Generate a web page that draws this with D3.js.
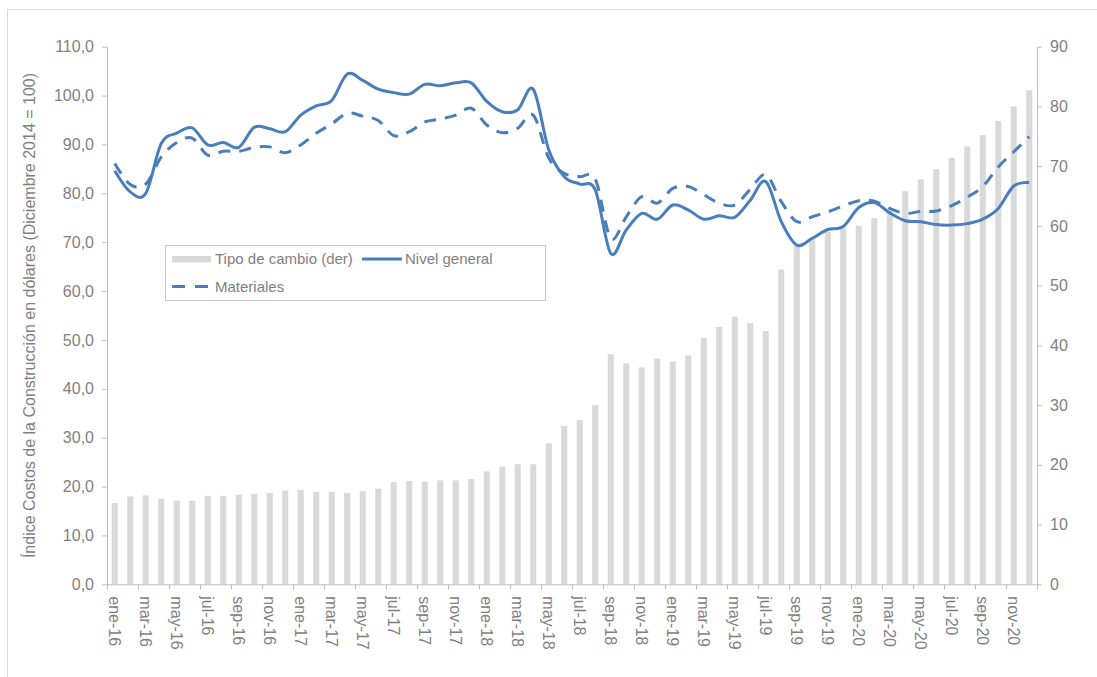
<!DOCTYPE html>
<html><head><meta charset="utf-8">
<script src="https://cdn.jsdelivr.net/npm/d3@7"></script>
<style>body{margin:0;background:#fff}svg{display:block;font-family:"Liberation Sans",Arial,sans-serif}</style>
</head><body><svg id="c" width="1097" height="677"></svg>
<script>
const categories = [
 "ene-16","feb-16","mar-16","abr-16","may-16","jun-16","jul-16","ago-16","sep-16","oct-16","nov-16","dic-16",
 "ene-17","feb-17","mar-17","abr-17","may-17","jun-17","jul-17","ago-17","sep-17","oct-17","nov-17","dic-17",
 "ene-18","feb-18","mar-18","abr-18","may-18","jun-18","jul-18","ago-18","sep-18","oct-18","nov-18","dic-18",
 "ene-19","feb-19","mar-19","abr-19","may-19","jun-19","jul-19","ago-19","sep-19","oct-19","nov-19","dic-19",
 "ene-20","feb-20","mar-20","abr-20","may-20","jun-20","jul-20","ago-20","sep-20","oct-20","nov-20","dic-20"];
const tipoCambio = [
 13.6,14.7,14.9,14.3,14.0,14.0,14.8,14.8,15.0,15.1,15.3,15.7,
 15.8,15.5,15.5,15.3,15.6,16.0,17.1,17.3,17.2,17.4,17.4,17.6,
 18.9,19.7,20.1,20.1,23.6,26.5,27.5,30.0,38.5,37.0,36.3,37.8,
 37.3,38.3,41.2,43.1,44.8,43.7,42.4,52.7,56.7,57.9,59.0,59.6,
 60.0,61.3,62.5,65.8,67.8,69.5,71.4,73.3,75.2,77.6,80.0,82.7];
const nivelGeneral = [
 84.6,80.3,80.0,90.2,92.3,93.4,89.9,90.4,89.4,93.5,93.2,92.6,
 96.0,97.9,99.0,104.4,103.1,101.3,100.6,100.3,102.3,102.0,102.6,102.6,
 98.8,96.7,97.1,101.3,88.9,83.4,81.9,80.7,67.7,72.5,75.9,74.7,
 77.6,76.6,74.7,75.4,75.1,78.6,82.4,74.2,69.4,70.8,72.6,73.2,
 77.1,78.1,76.0,74.4,74.2,73.6,73.5,73.8,74.7,76.9,81.5,82.2];
const materiales = [
 86.1,81.8,81.9,87.4,90.4,91.3,87.8,88.6,88.6,89.4,89.5,88.3,
 89.9,92.3,94.2,96.4,95.8,94.9,91.8,92.6,94.6,95.2,96.0,97.4,
 94.0,92.4,93.3,96.0,87.2,84.1,83.4,82.9,70.8,75.2,79.3,78.0,
 81.0,81.4,79.7,78.0,77.6,80.8,83.8,78.3,74.2,75.2,76.2,77.4,
 78.5,78.4,76.9,75.9,76.3,76.4,77.5,79.2,81.4,85.4,88.5,91.6];
const leftTicks = [0,10,20,30,40,50,60,70,80,90,100,110];
const rightTicks = [0,10,20,30,40,50,60,70,80,90];
const seriesNames = ["Tipo de cambio (der)","Nivel general","Materiales"];
const yTitle = "Índice Costos de la Construcción en dólares (Diciembre 2014 = 100)";

const svg = d3.select("#c");
const txt = "#7f7f7f", axc = "#bfbfbf", blue = "#4a7ebb", barc = "#d9d9d9";
const m = {l:107, r:1037, t:46.7, b:584.3};

svg.append("rect").attr("x",7.5).attr("y",9.5).attr("width",1100).attr("height",700)
  .attr("fill","none").attr("stroke","#d9d9d9");

const x = d3.scaleBand().domain(categories).range([m.l, m.r]).padding(0);
const xi = d3.scaleLinear().domain([0, categories.length]).range([m.l, m.r]);
const yL = d3.scaleLinear().domain([0,110]).range([m.b, m.t]);
const yR = d3.scaleLinear().domain([0,90]).range([m.b, m.t]);
const bw = x.bandwidth(), barW = bw*0.39;
const cx = c => x(c) + bw/2;

// bars
svg.append("g").selectAll("rect").data(categories).join("rect")
  .attr("x", c => cx(c) - barW/2).attr("width", barW)
  .attr("y", (c,i) => yR(tipoCambio[i])).attr("height", (c,i) => yR(0) - yR(tipoCambio[i]))
  .attr("fill", barc);

const loc = d3.formatLocale({decimal:",", thousands:".", grouping:[3], currency:["$",""]});
const fmt = loc.format(".1f");

function styleAxis(g){
  g.select(".domain").attr("stroke", axc);
  g.selectAll(".tick line").attr("stroke", axc);
  g.selectAll("text").attr("fill", txt).style("font-size","16px").style("font-family","'Liberation Sans',Arial,sans-serif");
}
svg.append("g").attr("transform",`translate(${m.l},0)`)
  .call(d3.axisLeft(yL).tickValues(leftTicks).tickFormat(fmt).tickSize(5).tickPadding(8).tickSizeOuter(0))
  .call(styleAxis);
svg.append("g").attr("transform",`translate(${m.r},0)`)
  .call(d3.axisRight(yR).tickValues(rightTicks).tickFormat(d3.format("d")).tickSize(5).tickPadding(8).tickSizeOuter(0))
  .call(styleAxis);
svg.append("g").attr("transform",`translate(0,${m.b})`)
  .call(d3.axisBottom(xi).tickValues(d3.range(0, categories.length+1, 2)).tickFormat("").tickSize(5).tickSizeOuter(0))
  .call(styleAxis);

// x labels
svg.append("g").selectAll("text").data(categories.filter((c,i)=>i%2===0)).join("text")
  .attr("transform", c => `translate(${cx(c)},${m.b+12}) rotate(90)`)
  .attr("dy","0.35em").attr("text-anchor","start")
  .attr("fill", txt).style("font-size","16px").text(c => c);

// y title
svg.append("text").attr("transform",`translate(29,${(m.t+m.b)/2}) rotate(-90)`)
  .attr("text-anchor","middle").attr("dy","0.35em").attr("fill",txt).style("font-size","16px").text(yTitle);

// lines
const line = d3.line().x((d,i)=>cx(categories[i])).y(d=>yL(d)).curve(d3.curveCardinal.tension(0));
svg.append("path").datum(materiales).attr("d", line).attr("fill","none").attr("stroke",blue)
  .attr("stroke-width",3).attr("stroke-dasharray","12,9");
svg.append("path").datum(nivelGeneral).attr("d", line).attr("fill","none").attr("stroke",blue)
  .attr("stroke-width",3).attr("stroke-linejoin","round");

// legend
const lg = svg.append("g");
lg.append("rect").attr("x",165.5).attr("y",245.5).attr("width",380).attr("height",55)
  .attr("fill","#fff").attr("stroke","#c8c8c8");
lg.append("rect").attr("x",172).attr("y",256).attr("width",39).attr("height",6.5).attr("fill",barc);
lg.append("text").attr("x",215).attr("y",259).attr("dy","0.35em").attr("fill",txt).style("font-size","15px").text(seriesNames[0]);
lg.append("line").attr("x1",362).attr("x2",402).attr("y1",259).attr("y2",259).attr("stroke",blue).attr("stroke-width",3);
lg.append("text").attr("x",405).attr("y",259).attr("dy","0.35em").attr("fill",txt).style("font-size","15px").text(seriesNames[1]);
lg.append("line").attr("x1",172).attr("x2",209).attr("y1",286.5).attr("y2",286.5).attr("stroke",blue).attr("stroke-width",3).attr("stroke-dasharray","13,10");
lg.append("text").attr("x",215).attr("y",286.5).attr("dy","0.35em").attr("fill",txt).style("font-size","15px").text(seriesNames[2]);
</script></body></html>
